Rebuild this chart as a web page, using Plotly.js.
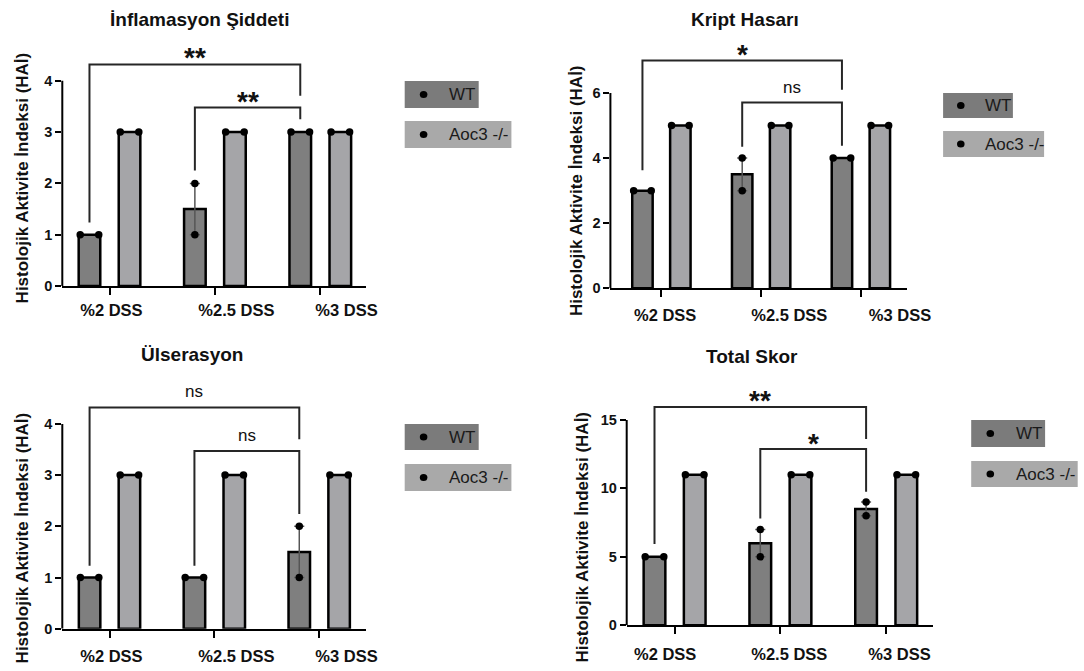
<!DOCTYPE html>
<html>
<head>
<meta charset="utf-8">
<script src="https://cdn.plot.ly/plotly-3.0.1.min.js"></script>
<style>html,body{margin:0;padding:0;background:#fff;}#chart{width:1084px;height:671px;}</style>
</head>
<body>
<div id="chart"></div>
<script>
// ---------- DATA ----------
const categories = ['%2 DSS', '%2.5 DSS', '%3 DSS'];
const seriesNames = ['WT', 'Aoc3 -/-'];
const panelTitles = ['İnflamasyon Şiddeti', 'Kript Hasarı', 'Ülserasyon', 'Total Skor'];
const yAxisTitle = 'Histolojik Aktivite İndeksi (HAİ)';

// individual animal scores (n = 2 per group)
const wtInflamasyon = [[1, 1], [1, 2], [3, 3]];
const koInflamasyon = [[3, 3], [3, 3], [3, 3]];
const wtKript = [[3, 3], [3, 4], [4, 4]];
const koKript = [[5, 5], [5, 5], [5, 5]];
const wtUlserasyon = [[1, 1], [1, 1], [1, 2]];
const koUlserasyon = [[3, 3], [3, 3], [3, 3]];
const wtTotal = [[5, 5], [5, 7], [8, 9]];
const koTotal = [[11, 11], [11, 11], [11, 11]];

const yTicksInflamasyon = [0, 1, 2, 3, 4];
const yTicksKript = [0, 2, 4, 6];
const yTicksUlserasyon = [0, 1, 2, 3, 4];
const yTicksTotal = [0, 5, 10, 15];

// significance comparisons (WT groups): [label, fromGroup, toGroup]
const sigInflamasyon = [['**', 0, 2], ['**', 1, 2]];
const sigKript = [['*', 0, 2], ['ns', 1, 2]];
const sigUlserasyon = [['ns', 0, 2], ['ns', 1, 2]];
const sigTotal = [['**', 0, 2], ['*', 1, 2]];

// ---------- STYLE / LAYOUT ----------
const W = 1084, H = 671;
const FONT = 'Liberation Sans, Arial, sans-serif';
const colWT = '#7f7f7f', colKO = '#a5a5a8';
const OFF = 0.19, BW = 0.205, JIT = 0.088;

const panels = [
  { wt: wtInflamasyon, ko: koInflamasyon, title: panelTitles[0], yticks: yTicksInflamasyon, sig: sigInflamasyon,
    g: { x0: 62.3, x1: 365.7, tick0: 109.5, step: 105.4, y0: 286, ppu: 51.3, ytop: 4.85 },
    labelPos: [0.018, 1.204, 2.249], stand: 8,
    br: [{ top: 4.32, l: 1.24, r: 3.71, ty: 4.6 }, { top: 3.48, l: 2.25, r: 3.25, ty: 3.73 }],
    titlePx: [199.7, 19], yTitlePx: [22.4, 178],
    leg: { bx: 404.7, wtX1: 478.7, koX1: 511.4, wtY: [81, 108], koY: [121, 148], dotX: 423.6, textX: 447 } },
  { wt: wtKript, ko: koKript, title: panelTitles[1], yticks: yTicksKript, sig: sigKript,
    g: { x0: 610.4, x1: 906.7, tick0: 661.4, step: 99.75, y0: 288.3, ppu: 32.55, ytop: 7.8 },
    labelPos: [0.038, 1.282, 2.392], stand: 11,
    br: [{ top: 7.0, l: 3.63, r: 6.1, ty: 7.4 }, { top: 5.71, l: 4.35, r: 4.38, ty: 6.17 }],
    titlePx: [744.7, 19], yTitlePx: [577.1, 191],
    leg: { bx: 943.1, wtX1: 1012.9, koX1: 1044.1, wtY: [93, 118], koY: [131, 157], dotX: 960.8, textX: 983 } },
  { wt: wtUlserasyon, ko: koUlserasyon, title: panelTitles[2], yticks: yTicksUlserasyon, sig: sigUlserasyon,
    g: { x0: 62.3, x1: 365.7, tick0: 109.5, step: 104.85, y0: 628.7, ppu: 51.2, ytop: 4.85 },
    labelPos: [0.018, 1.21, 2.26], stand: 11,
    br: [{ top: 4.32, l: 1.23, r: 3.7, ty: 4.63 }, { top: 3.47, l: 1.23, r: 2.24, ty: 3.77 }],
    titlePx: [191.8, 354], yTitlePx: [22.4, 538],
    leg: { bx: 404.7, wtX1: 478.7, koX1: 511.4, wtY: [424, 450], koY: [464, 491], dotX: 423.6, textX: 447 } },
  { wt: wtTotal, ko: koTotal, title: panelTitles[3], yticks: yTicksTotal, sig: sigTotal,
    g: { x0: 626.7, x1: 933.1, tick0: 674.6, step: 105.8, y0: 625.3, ppu: 13.69, ytop: 17.5 },
    labelPos: [-0.089, 1.084, 2.126], stand: 13,
    br: [{ top: 15.95, l: 5.94, r: 13.6, ty: 16.95 }, { top: 12.88, l: 7.8, r: 9.76, ty: 13.8 }],
    titlePx: [751.6, 356], yTitlePx: [581.6, 537],
    leg: { bx: 971.2, wtX1: 1045.1, koX1: 1077.7, wtY: [420, 447], koY: [461, 487], dotX: 990.3, textX: 1013.6 } }
];

const mean = a => a.reduce((s, v) => s + v, 0) / a.length;
const sem = a => { const m = mean(a); const sd = Math.sqrt(a.reduce((s, v) => s + (v - m) * (v - m), 0) / (a.length - 1)); return sd / Math.sqrt(a.length); };

const data = [];
const layout = {
  width: W, height: H, margin: { l: 0, r: 0, t: 0, b: 0 },
  paper_bgcolor: '#ffffff', plot_bgcolor: '#ffffff', showlegend: false,
  font: { family: FONT, color: '#111' }, shapes: [], annotations: []
};

panels.forEach((p, i) => {
  const s = i === 0 ? '' : String(i + 1);
  const xr = 'x' + s, yr = 'y' + s;
  const g = p.g;
  const groups = categories.map((c, k) => k);

  layout['xaxis' + s] = {
    domain: [g.x0 / W, g.x1 / W],
    range: [(g.x0 - g.tick0) / g.step, (g.x1 - g.tick0) / g.step],
    anchor: yr, showline: true, linewidth: 2, linecolor: '#000', showgrid: false, zeroline: false,
    tickmode: 'array', tickvals: p.labelPos, ticktext: categories, ticks: '',
    tickfont: { family: FONT, size: 16.5, weight: 'bold', color: '#111' },
    ticklabelstandoff: p.stand,
    minor: { tickmode: 'array', tickvals: groups, ticks: 'outside', ticklen: 7, tickwidth: 2, tickcolor: '#000', showgrid: false },
    fixedrange: true
  };
  layout['yaxis' + s] = {
    domain: [1 - g.y0 / H, 1 - (g.y0 - g.ytop * g.ppu) / H],
    range: [0, g.ytop], anchor: xr, showline: false, showgrid: false, zeroline: false,
    tickmode: 'array', tickvals: p.yticks, ticks: 'outside', ticklen: 6, tickwidth: 2, tickcolor: '#000',
    tickfont: { family: FONT, size: 14.5, weight: 'bold', color: '#111' }, fixedrange: true
  };
  // y axis line only up to the last tick
  layout.shapes.push({ type: 'line', xref: xr + ' domain', yref: yr, x0: 0, x1: 0, y0: 0, y1: Math.max(...p.yticks), line: { color: '#000', width: 2 } });

  [[p.wt, -OFF, colWT, seriesNames[0]], [p.ko, OFF, colKO, seriesNames[1]]].forEach(([pts, off, col, name]) => {
    data.push({
      type: 'bar', name: name, xaxis: xr, yaxis: yr,
      x: groups.map(k => k + off), y: pts.map(mean), width: BW,
      marker: { color: col, line: { color: '#000', width: 2.5 } },
      error_y: { type: 'data', array: pts.map(a => { const e = sem(a); return e > 0 ? e : NaN; }), visible: true, color: '#555', thickness: 1.5, width: 5 },
      hoverinfo: 'skip'
    });
    const px = [], py = [];
    pts.forEach((a, k) => {
      const same = a.every(v => v === a[0]);
      a.forEach((v, j) => { px.push(k + off + (same ? (j === 0 ? -JIT : JIT) : 0)); py.push(v); });
    });
    data.push({ type: 'scatter', mode: 'markers', xaxis: xr, yaxis: yr, x: px, y: py, cliponaxis: false,
      marker: { color: '#000', size: 7.5 }, hoverinfo: 'skip', name: name });
  });

  // significance brackets
  p.sig.forEach((sg, b) => {
    const [label, from, to] = sg;
    const br = p.br[b];
    const xa = from - OFF, xb = to - OFF;
    layout.shapes.push({ type: 'path', xref: xr, yref: yr,
      path: `M ${xa} ${br.l} L ${xa} ${br.top} L ${xb} ${br.top} L ${xb} ${br.r}`,
      line: { color: '#262626', width: 2 } });
    const star = label !== 'ns';
    layout.annotations.push({ xref: xr, yref: yr, x: (xa + xb) / 2, y: br.ty, text: label, showarrow: false,
      xanchor: 'center', yanchor: 'middle', yshift: star ? -7 : 0,
      font: { family: FONT, size: star ? 28 : 17, weight: star ? 'bold' : 'normal', color: '#111' } });
  });

  // panel title
  layout.annotations.push({ xref: 'paper', yref: 'paper', x: p.titlePx[0] / W, y: 1 - p.titlePx[1] / H, text: p.title,
    showarrow: false, xanchor: 'center', yanchor: 'middle', font: { family: FONT, size: 19, weight: 'bold', color: '#111' } });
  // y axis title
  layout.annotations.push({ xref: 'paper', yref: 'paper', x: p.yTitlePx[0] / W, y: 1 - p.yTitlePx[1] / H, text: yAxisTitle,
    textangle: -90, showarrow: false, xanchor: 'center', yanchor: 'middle', font: { family: FONT, size: 17, weight: 'bold', color: '#111' } });

  // legend boxes
  const L = p.leg;
  [[L.wtX1, L.wtY, '#7b7b7b', seriesNames[0]], [L.koX1, L.koY, '#a9a9a9', seriesNames[1]]].forEach(([x1, ys, col, name]) => {
    layout.shapes.push({ type: 'rect', xref: 'paper', yref: 'paper', x0: L.bx / W, x1: x1 / W, y0: 1 - ys[1] / H, y1: 1 - ys[0] / H,
      fillcolor: col, line: { width: 0 } });
    const cy = 1 - (ys[0] + ys[1]) / 2 / H;
    layout.shapes.push({ type: 'circle', xref: 'paper', yref: 'paper', xsizemode: 'pixel', ysizemode: 'pixel',
      xanchor: L.dotX / W, yanchor: cy, x0: -3.8, x1: 3.8, y0: -3.6, y1: 3.6, fillcolor: '#000', line: { width: 0 } });
    layout.annotations.push({ xref: 'paper', yref: 'paper', x: L.textX / W, y: cy, text: name, showarrow: false,
      xanchor: 'left', yanchor: 'middle', font: { family: FONT, size: 17, color: '#1a1a1a' } });
  });
});

Plotly.newPlot('chart', data, layout, { staticPlot: true, displayModeBar: false });
</script>
</body>
</html>
